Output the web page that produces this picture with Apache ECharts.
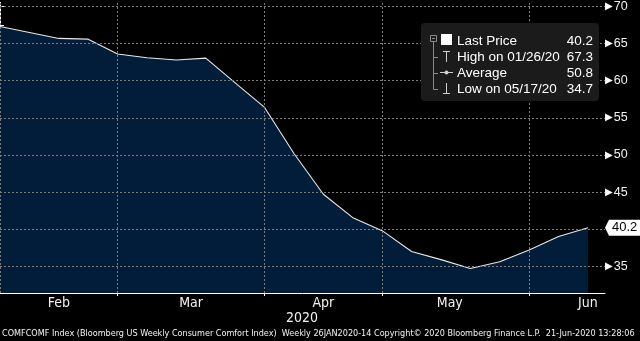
<!DOCTYPE html>
<html>
<head>
<meta charset="utf-8">
<style>
  html, body { margin: 0; padding: 0; background: #000; }
  #chart { width: 640px; height: 341px; }
</style>
<script src="https://cdn.jsdelivr.net/npm/echarts@6/dist/echarts.min.js"></script>
</head>
<body>
<div id="chart"></div>
<script>
// Weekly Bloomberg US Consumer Comfort Index, 2020
const weekDates = [
  '2020-01-26', '2020-02-02', '2020-02-09', '2020-02-16', '2020-02-23',
  '2020-03-01', '2020-03-08', '2020-03-15', '2020-03-22', '2020-03-29',
  '2020-04-05', '2020-04-12', '2020-04-19', '2020-04-26', '2020-05-03',
  '2020-05-10', '2020-05-17', '2020-05-24', '2020-05-31', '2020-06-07',
  '2020-06-14'
];
const comfortValues = [
  67.3, 66.5, 65.7, 65.6, 63.6,
  63.1, 62.8, 63.05, 59.7, 56.4,
  50.2, 44.7, 41.55, 39.8, 37.0,
  35.9, 34.7, 35.6, 37.2, 39.0,
  40.2
];
const averageValue = 50.8;

// x axis: month names centred in their spans, ticks at month-end weeks
const monthLabels = ['Feb', 'Mar', 'Apr', 'May', 'Jun'];
const monthLabelPos = [2, 6.5, 11, 15.3, 20];
const monthTickPos = [4, 9, 13, 18];
const xGridLines = [0, 4, 9, 13, 18];

// y axis
const yLabelValues = [35, 45, 50, 55, 60, 65, 70];
const yTickValues = [32.5, 35, 37.5, 40, 42.5, 45, 47.5, 50, 52.5, 55, 57.5, 60, 62.5, 65, 67.5, 70];
const yGridLines = [35, 40, 45, 50, 55, 60, 65, 70];

const footerText = 'COMFCOMF Index (Bloomberg US Weekly Consumer Comfort Index)  Weekly 26JAN2020-14 Copyright\u00A9 2020 Bloomberg Finance L.P.  21-Jun-2020 13:28:06';

const GRID = { left: 0, right: 35, top: 0, bottom: 48 };
const AXIS_X = 640 - GRID.right;
const CONDENSED = "'DejaVu Sans Condensed', 'DejaVu Sans', sans-serif";

function shortDate(s) {
  const [y, m, d] = s.split('-');
  return m + '/' + d + '/' + y.slice(2);
}

const lastVal = comfortValues[comfortValues.length - 1];
let hiIdx = 0, loIdx = 0;
comfortValues.forEach((v, i) => {
  if (v > comfortValues[hiIdx]) hiIdx = i;
  if (v < comfortValues[loIdx]) loIdx = i;
});

const chart = echarts.init(document.getElementById('chart'), null, { renderer: 'canvas' });

const gridLine = { color: '#7c7c7c', type: [2, 2], width: 1 };
const markData = []
  .concat(yGridLines.map(v => ({ yAxis: v })))
  .concat(xGridLines.map(v => ({ xAxis: v })));

const option = {
  backgroundColor: '#000',
  animation: false,
  grid: GRID,
  xAxis: {
    type: 'value',
    min: 0,
    max: 20.58,
    splitLine: { show: false },
    axisLine: { show: true, lineStyle: { color: '#fff', width: 1 } },
    axisTick: { show: true, customValues: monthTickPos, length: 3, lineStyle: { color: '#fff' } },
    axisLabel: {
      customValues: monthLabelPos,
      formatter: v => monthLabels[monthLabelPos.indexOf(v)] || '',
      color: '#f2f2f2',
      fontFamily: CONDENSED,
      fontSize: 14,
      margin: 3
    }
  },
  yAxis: {
    type: 'value',
    position: 'right',
    min: 31.4,
    max: 70.55,
    splitLine: { show: false },
    axisLine: { show: true, lineStyle: { color: '#fff', width: 1 } },
    axisTick: { show: true, customValues: yTickValues, length: 4, lineStyle: { color: '#fff' } },
    axisLabel: {
      customValues: yLabelValues,
      formatter: v => '{t|\u25B6}{v|' + v + '}',
      margin: 0,
      rich: {
        t: { fontSize: 10, color: '#fff', fontFamily: "'DejaVu Sans', sans-serif", verticalAlign: 'middle', padding: [0, 1, 0, 0] },
        v: { fontSize: 12.5, color: '#f2f2f2', fontFamily: "'Liberation Sans', Arial, sans-serif", verticalAlign: 'middle' }
      }
    }
  },
  series: [{
    type: 'line',
    data: comfortValues.map((v, i) => [i, v]),
    showSymbol: false,
    symbol: 'none',
    lineStyle: { color: '#e8e8e8', width: 1.1 },
    areaStyle: { color: '#021d3a', opacity: 1 },
    markLine: {
      silent: true,
      symbol: ['none', 'none'],
      label: { show: false },
      lineStyle: gridLine,
      data: markData
    },
    z: 2
  }]
};

chart.setOption(option);

// Last-price tag on the value axis, plus legend panel and footer
const tagY = chart.convertToPixel({ xAxisIndex: 0, yAxisIndex: 0 }, [0, lastVal])[1];
const legendFont = "13.5px 'Liberation Sans', Arial, sans-serif";
const rowY = [41, 57, 73, 89];
const iconStroke = { stroke: '#cfcfcf', lineWidth: 1 };
const treeStroke = { stroke: '#8a8a8a', lineWidth: 1 };

const legendRows = [
  ['Last Price', lastVal.toFixed(1)],
  ['High on ' + shortDate(weekDates[hiIdx]), comfortValues[hiIdx].toFixed(1)],
  ['Average', averageValue.toFixed(1)],
  ['Low on ' + shortDate(weekDates[loIdx]), comfortValues[loIdx].toFixed(1)]
];

const graphics = [
  // tag
  {
    type: 'polygon', z: 100,
    shape: { points: [[AXIS_X, tagY], [AXIS_X + 4, tagY - 8], [640, tagY - 8], [640, tagY + 8], [AXIS_X + 4, tagY + 8]] },
    style: { fill: '#fff' }
  },
  {
    type: 'text', z: 101, x: AXIS_X + 7, y: tagY,
    style: { text: lastVal.toFixed(1), fill: '#000', font: "13px 'Liberation Sans', Arial, sans-serif", textVerticalAlign: 'middle' }
  },
  // legend panel
  { type: 'rect', z: 90, shape: { x: 421, y: 23, width: 178, height: 78, r: 4 }, style: { fill: '#1b1b1b' } },
  { type: 'rect', z: 91, shape: { x: 430.5, y: 35.5, width: 6, height: 6 }, style: { fill: 'none', ...treeStroke } },
  { type: 'line', z: 91, shape: { x1: 432, y1: 38.5, x2: 435, y2: 38.5 }, style: treeStroke },
  { type: 'line', z: 91, shape: { x1: 433.5, y1: 41.5, x2: 433.5, y2: rowY[3] + 0.5 }, style: treeStroke },
  { type: 'line', z: 91, shape: { x1: 433.5, y1: rowY[1] + 0.5, x2: 438, y2: rowY[1] + 0.5 }, style: treeStroke },
  { type: 'line', z: 91, shape: { x1: 433.5, y1: rowY[2] + 0.5, x2: 438, y2: rowY[2] + 0.5 }, style: treeStroke },
  { type: 'line', z: 91, shape: { x1: 433.5, y1: rowY[3] + 0.5, x2: 438, y2: rowY[3] + 0.5 }, style: treeStroke },
  // last price swatch
  { type: 'rect', z: 91, shape: { x: 441, y: 34, width: 11, height: 11 }, style: { fill: '#fff' } },
  // high icon
  { type: 'line', z: 91, shape: { x1: 443, y1: 51.5, x2: 450, y2: 51.5 }, style: iconStroke },
  { type: 'line', z: 91, shape: { x1: 446.5, y1: 51.5, x2: 446.5, y2: 62 }, style: iconStroke },
  // average icon
  { type: 'line', z: 91, shape: { x1: 440, y1: 72.5, x2: 453, y2: 72.5 }, style: iconStroke },
  { type: 'circle', z: 92, shape: { cx: 446.5, cy: 72.5, r: 2 }, style: { fill: '#cfcfcf' } },
  // low icon
  { type: 'line', z: 91, shape: { x1: 446.5, y1: 83, x2: 446.5, y2: 93.5 }, style: iconStroke },
  { type: 'line', z: 91, shape: { x1: 443, y1: 93.5, x2: 450, y2: 93.5 }, style: iconStroke },
  // year label and footer
  {
    type: 'text', x: 302, y: 318,
    style: { text: '2020', fill: '#f2f2f2', font: '14px ' + CONDENSED, textAlign: 'center', textVerticalAlign: 'middle' }
  },
  {
    type: 'text', x: 2, y: 334,
    style: { text: footerText, fill: '#f2f2f2', font: '9px ' + CONDENSED, textVerticalAlign: 'middle' }
  }
];

legendRows.forEach((row, i) => {
  graphics.push({
    type: 'text', z: 92, x: 457, y: rowY[i],
    style: { text: row[0], fill: '#fff', font: legendFont, textVerticalAlign: 'middle' }
  });
  graphics.push({
    type: 'text', z: 92, x: 593, y: rowY[i],
    style: { text: row[1], fill: '#fff', font: legendFont, textAlign: 'right', textVerticalAlign: 'middle' }
  });
});

chart.setOption({ graphic: graphics });
</script>
</body>
</html>
